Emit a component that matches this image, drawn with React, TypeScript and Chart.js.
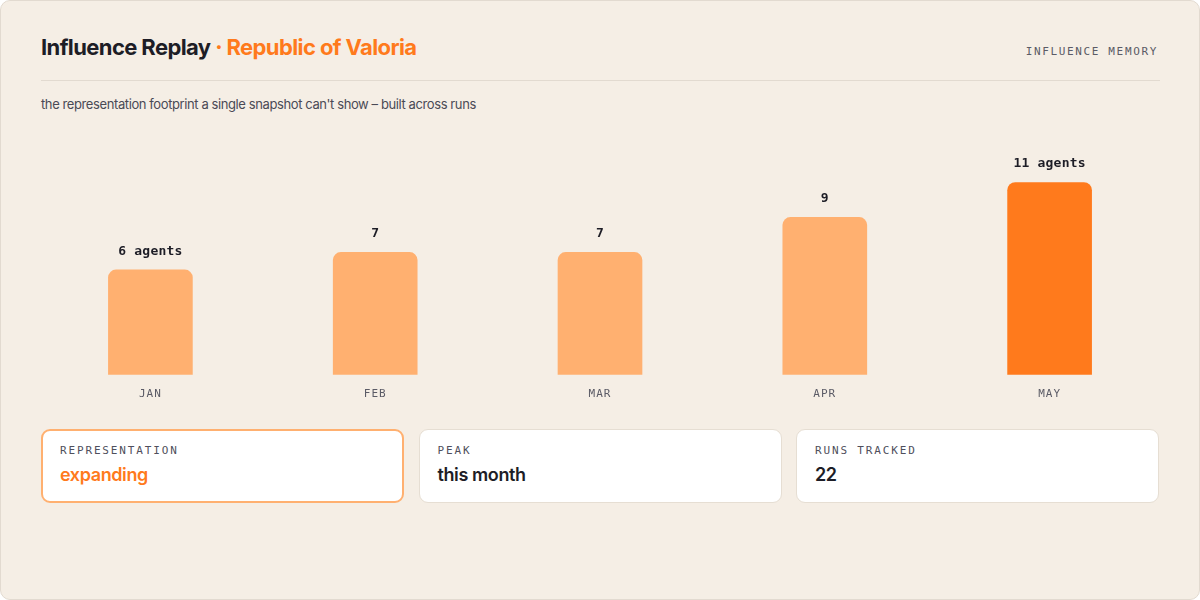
import React, { useEffect, useRef } from "react";
import { Chart, registerables } from "chart.js";

Chart.register(...registerables);

const months = ["JAN", "FEB", "MAR", "APR", "MAY"];
const agents = [6, 7, 7, 9, 11];
const barLabels = ["6 agents", "7", "7", "9", "11 agents"];
const barColors = ["#ffb070", "#ffb070", "#ffb070", "#ffb070", "#ff7a1c"];
const yMax = 14;

const statLabels = ["REPRESENTATION", "PEAK", "RUNS TRACKED"];
const statValues = ["expanding", "this month", "22"];

const MONO = '"DejaVu Sans Mono", "Liberation Mono", monospace';
const SANS = 'Inter, "Noto Sans", sans-serif';

const valueLabelPlugin = {
  id: "valueLabels",
  beforeDraw(chart: any) {
    chart.ctx.letterSpacing = "1px";
  },
  afterDatasetsDraw(chart: any) {
    const ctx = chart.ctx;
    const meta = chart.getDatasetMeta(0);
    ctx.save();
    ctx.letterSpacing = "0.2px";
    ctx.font = `bold 13px ${MONO}`;
    ctx.fillStyle = "#1d1d26";
    ctx.textAlign = "center";
    ctx.textBaseline = "bottom";
    meta.data.forEach((bar: any, i: number) => {
      ctx.fillText(barLabels[i], bar.x, bar.y - 12);
    });
    ctx.restore();
  },
};

function BarChart() {
  const ref = useRef<HTMLCanvasElement>(null);
  useEffect(() => {
    if (!ref.current) return;
    const chart = new Chart(ref.current, {
      type: "bar",
      data: {
        labels: months,
        datasets: [
          {
            data: agents,
            backgroundColor: barColors,
            borderRadius: 8,
            borderSkipped: "bottom",
            barThickness: 84,
          },
        ],
      },
      options: {
        animation: false,
        responsive: true,
        maintainAspectRatio: false,
        layout: { padding: 0 },
        plugins: { legend: { display: false }, tooltip: { enabled: false } },
        scales: {
          x: {
            grid: { display: false, drawTicks: false },
            border: { display: false },
            ticks: {
              color: "#5b5b66",
              font: { family: MONO, size: 11 },
              padding: 13,
            },
          },
          y: {
            display: false,
            min: 0,
            max: yMax,
          },
        },
      },
      plugins: [valueLabelPlugin],
    });
    return () => chart.destroy();
  }, []);
  return (
    <div style={{ position: "absolute", left: 37, top: 129, width: 1124, height: 284 }}>
      <canvas ref={ref} />
    </div>
  );
}

export default function App() {
  useEffect(() => {
    document.body.style.margin = "0";
  }, []);
  return (
    <div
      style={{
        position: "relative",
        width: 1200,
        height: 600,
        boxSizing: "border-box",
        border: "1px solid #e2dad0",
        borderRadius: 10,
        background: "#f5eee5",
        overflow: "hidden",
        fontFamily: SANS,
      }}
    >
      <div
        style={{
          position: "absolute",
          left: 40,
          top: 33,
          fontSize: 22,
          fontWeight: 700,
          letterSpacing: "-0.6px",
          color: "#1d1d26",
          whiteSpace: "nowrap",
        }}
      >
        Influence Replay <span style={{ color: "#ff7a1c" }}>· Republic of Valoria</span>
      </div>
      <div
        style={{
          position: "absolute",
          right: 41,
          top: 44,
          fontFamily: MONO,
          fontSize: 11,
          letterSpacing: "1.65px",
          color: "#5b5b66",
        }}
      >
        INFLUENCE MEMORY
      </div>
      <div
        style={{
          position: "absolute",
          left: 40,
          top: 79,
          width: 1119,
          height: 1,
          background: "#e2dad0",
        }}
      />
      <div
        style={{
          position: "absolute",
          left: 40,
          top: 95,
          fontSize: 13,
          color: "#4a4a55",
          letterSpacing: "-0.4px",
          whiteSpace: "nowrap",
        }}
      >
        the representation footprint a single snapshot can't show – built across runs
      </div>
      <BarChart />
      {statLabels.map((lab, i) => (
        <div
          key={lab}
          style={{
            position: "absolute",
            left: 40 + i * 377.5,
            top: 428,
            width: 363,
            height: 74,
            boxSizing: "border-box",
            background: "#ffffff",
            border: i === 0 ? "2px solid #ffb070" : "1px solid #e6ded3",
            borderRadius: 9,
          }}
        >
          <div
            style={{
              position: "absolute",
              left: i === 0 ? 17 : 18,
              top: i === 0 ? 13 : 14,
              fontFamily: MONO,
              fontSize: 11,
              letterSpacing: "1.85px",
              color: "#4f4f5c",
            }}
          >
            {lab}
          </div>
          <div
            style={{
              position: "absolute",
              left: i === 0 ? 17 : 18,
              top: i === 0 ? 33 : 34,
              fontSize: 18,
              fontWeight: 600,
              letterSpacing: "-0.4px",
              color: i === 0 ? "#ff7a1c" : "#1d1d26",
            }}
          >
            {statValues[i]}
          </div>
        </div>
      ))}
    </div>
  );
}
